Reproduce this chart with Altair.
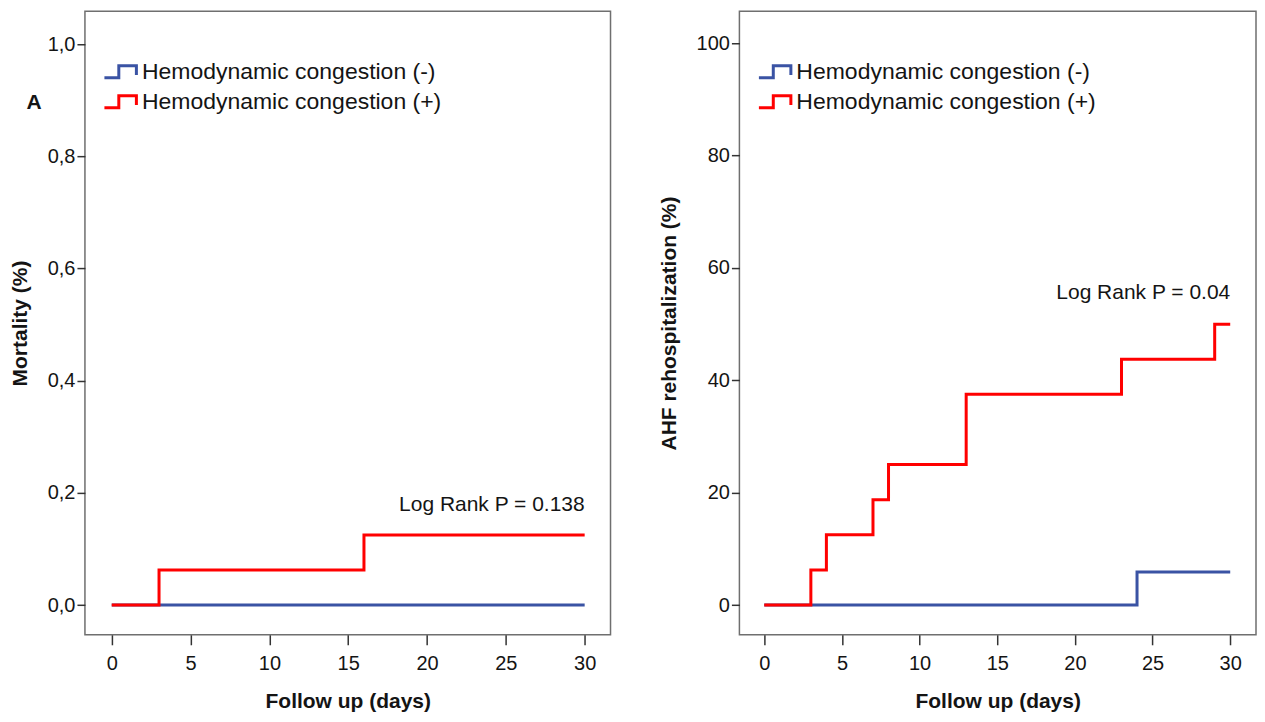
import altair as alt
import pandas as pd

# ---- data ----
groups = ["Hemodynamic congestion (-)", "Hemodynamic congestion (+)"]
colors = ["#3A53A4", "#FF0000"]

days_mort_neg = [0, 30]
mort_neg = [0.0, 0.0]
days_mort_pos = [0, 3, 16, 30]
mort_pos = [0.0, 0.0625, 0.125, 0.125]

days_rehosp_neg = [0, 24, 30]
rehosp_neg = [0.0, 5.88, 5.88]
days_rehosp_pos = [0, 3, 4, 7, 8, 13, 23, 29, 30]
rehosp_pos = [0.0, 6.25, 12.5, 18.75, 25.0, 37.5, 43.75, 50.0, 50.0]

x_ticks = [0, 5, 10, 15, 20, 25, 30]
mort_ticks = [0, 0.2, 0.4, 0.6, 0.8, 1.0]
rehosp_ticks = [0, 20, 40, 60, 80, 100]

mort_note = "Log Rank P = 0.138"
rehosp_note = "Log Rank P = 0.04"
panel_letter = "A"

FONT = "Liberation Sans"
TXT = "#141414"
STEP_PATH = "M-1,0.38H-0.1V-0.38H1V0.2"
PLOT_H = 624


def frame(days_neg, vals_neg, days_pos, vals_pos):
    rows = []
    for d, v in zip(days_neg, vals_neg):
        rows.append({"day": d, "value": v, "group": groups[0], "order": 0})
    for d, v in zip(days_pos, vals_pos):
        rows.append({"day": d, "value": v, "group": groups[1], "order": 1})
    return pd.DataFrame(rows)


mort_df = frame(days_mort_neg, mort_neg, days_mort_pos, mort_pos)
rehosp_df = frame(days_rehosp_neg, rehosp_neg, days_rehosp_pos, rehosp_pos)


def panel(df, xdom, ydom, yticks, ytitle, label_expr, note, note_y, width):
    x = alt.X(
        "day:Q",
        scale=alt.Scale(domain=xdom, nice=False, zero=False),
        axis=alt.Axis(
            values=x_ticks, title="Follow up (days)", grid=False, domain=False,
            tickSize=10, tickColor="#333", tickWidth=1.5, labelFontSize=20,
            labelColor=TXT, labelPadding=9, titleFontSize=21,
            titleFontWeight="bold", titleColor=TXT, titlePadding=17,
            labelFont=FONT, titleFont=FONT,
        ),
    )
    y = alt.Y(
        "value:Q",
        scale=alt.Scale(domain=ydom, nice=False, zero=False),
        axis=alt.Axis(
            values=yticks, title=ytitle, grid=False, domain=False,
            tickSize=8, tickColor="#333", tickWidth=1.5, labelFontSize=20,
            labelColor=TXT, labelPadding=2, labelExpr=label_expr,
            titleFontSize=21, titleFontWeight="bold", titleColor=TXT,
            titlePadding=17, labelFont=FONT, titleFont=FONT,
        ),
    )
    lines = alt.Chart(df).mark_line(interpolate="step-after", strokeWidth=3).encode(
        x=x,
        y=y,
        color=alt.Color(
            "group:N",
            scale=alt.Scale(domain=groups, range=colors),
            legend=alt.Legend(
                title=None, orient="none", legendX=18, legendY=43,
                symbolType=STEP_PATH, symbolSize=1024, symbolStrokeWidth=3,
                symbolFillColor="transparent", labelFontSize=23,
                labelFont=FONT, labelColor=TXT, labelOffset=4,
                rowPadding=0, labelLimit=450,
            ),
        ),
        order="order:Q",
    )
    note_df = pd.DataFrame({"day": [30], "value": [note_y], "text": [note]})
    text = alt.Chart(note_df).mark_text(
        align="right", baseline="middle", fontSize=21, font=FONT, color=TXT
    ).encode(x="day:Q", y="value:Q", text="text:N")
    return alt.layer(lines, text).properties(width=width, height=PLOT_H)


left = panel(
    mort_df, [-1.70, 31.64], [-0.053, 1.0586], mort_ticks, "Mortality (%)",
    "replace(format(datum.value, '.1f'), '.', ',')", mort_note, 0.179, 526,
)
letter_df = pd.DataFrame({"t": [panel_letter]})
letter = alt.Chart(letter_df).mark_text(
    fontSize=21, fontWeight="bold", font=FONT, color=TXT, align="center", baseline="middle"
).encode(x=alt.value(-51), y=alt.value(92), text="t:N")
left = alt.layer(left, letter)

right = panel(
    rehosp_df, [-1.60, 31.66], [-5.3, 105.7], rehosp_ticks, "AHF rehospitalization (%)",
    "format(datum.value, 'd')", rehosp_note, 55.5, 517,
)

chart = alt.hconcat(left, right, spacing=129, bounds="flush").resolve_scale(
    color="independent"
).resolve_legend(color="independent").properties(
    padding={"left": 0, "top": 2, "right": 0, "bottom": 0},
    background="white",
).configure_view(
    stroke="#6f6f6f", strokeWidth=1.5
)

chart.save("out.html", embed_options={"renderer": "svg", "actions": False})
